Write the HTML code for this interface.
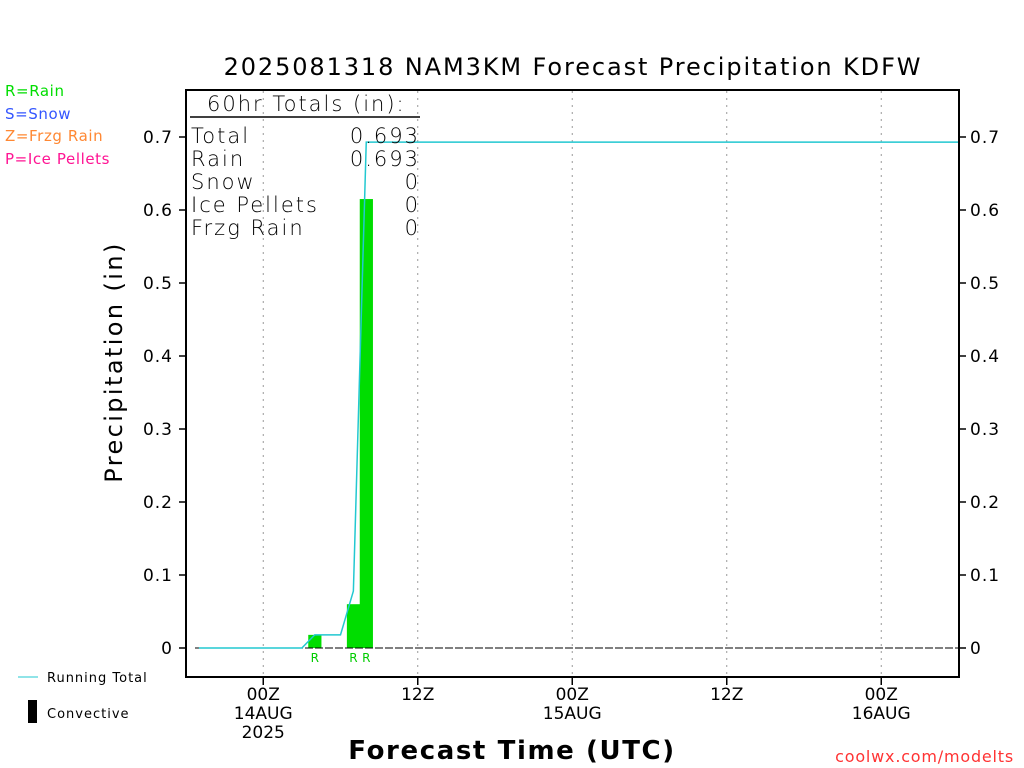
<!DOCTYPE html>
<html><head><meta charset="utf-8"><style>
body{margin:0;background:#fff;}
svg{display:block;font-family:"DejaVu Sans","Liberation Sans",sans-serif;}
</style></head><body>
<svg id="chart" width="1024" height="768" viewBox="0 0 1024 768" xmlns="http://www.w3.org/2000/svg">
<rect width="1024" height="768" fill="#fff"/>
<text x="573" y="75" font-size="24" text-anchor="middle" fill="#000" letter-spacing="1.9">2025081318 NAM3KM Forecast Precipitation KDFW</text>
<g font-size="15" letter-spacing="0.6">
<text x="5" y="96" fill="#00dd00">R=Rain</text>
<text x="5" y="119" fill="#3355ff">S=Snow</text>
<text x="5" y="141" fill="#ff8833">Z=Frzg Rain</text>
<text x="5" y="164" fill="#ff1493">P=Ice Pellets</text>
</g>
<g id="grid"></g>
<g id="bars"></g>
<line x1="195" y1="648" x2="958" y2="648" stroke="#000" stroke-dasharray="8,2" stroke-width="1"/>
<polyline id="total-line" fill="none" stroke="#22c8d0" stroke-width="1.5"/>
<g font-size="21" fill="#000" font-weight="300" letter-spacing="2">
<text x="207" y="111">60hr Totals (in):</text>
<line x1="190" y1="117" x2="420" y2="117" stroke="#000" stroke-width="1.5"/>
<text x="191" y="143">Total</text><text x="420" y="143" text-anchor="end">0.693</text>
<text x="191" y="166">Rain</text><text x="420" y="166" text-anchor="end">0.693</text>
<text x="191" y="189">Snow</text><text x="420" y="189" text-anchor="end">0</text>
<text x="191" y="212">Ice Pellets</text><text x="420" y="212" text-anchor="end">0</text>
<text x="191" y="235">Frzg Rain</text><text x="420" y="235" text-anchor="end">0</text>
</g>
<rect x="186" y="90" width="773" height="587" fill="none" stroke="#000" stroke-width="2"/>
<g id="axes"></g>
<text transform="translate(122,362) rotate(-90)" font-size="24" text-anchor="middle" fill="#000" letter-spacing="2.4">Precipitation (in)</text>
<text x="512" y="759" font-size="26" text-anchor="middle" fill="#000" font-weight="bold" letter-spacing="1.6">Forecast Time (UTC)</text>
<g font-size="13" fill="#000" letter-spacing="1">
<line x1="18" y1="677" x2="38" y2="677" stroke="#22c8d0" stroke-width="1"/>
<text x="47" y="682">Running Total</text>
<rect x="28" y="700" width="9" height="23" fill="#000"/>
<text x="47" y="718">Convective</text>
</g>
<text x="1014" y="762" font-size="16" text-anchor="end" fill="#ff3333" letter-spacing="0.8">coolwx.com/modelts</text>
</svg>
<script>
const hours = [1,2,3,4,5,6,7,8,9,10,11,12,13,14,15,60];
const totals = [0,0,0,0,0,0,0,0,0,0.018,0.018,0.018,0.078,0.693,0.693,0.693];
const barHours = [10,13,14];
const barValues = [0.018,0.060,0.615];
const barTypes = ["R","R","R"];
const yTicks = [0,0.1,0.2,0.3,0.4,0.5,0.6,0.7];
const xTickHours = [6,18,30,42,54];
const xTickLabels = [["00Z","14AUG","2025"],["12Z"],["00Z","15AUG"],["12Z"],["00Z","16AUG"]];
const NS="http://www.w3.org/2000/svg";
const x = h => 186 + h*12.875;
const y = v => 648 - v*730;
function mk(tag, attrs, parent, text){const e=document.createElementNS(NS,tag);for(const k in attrs)e.setAttribute(k,attrs[k]);if(text!==undefined)e.textContent=text;parent.appendChild(e);return e;}
const grid=document.getElementById('grid'), axes=document.getElementById('axes'), bars=document.getElementById('bars');
xTickHours.forEach((h,i)=>{
  const g=mk('line',{x1:x(h),y1:91,x2:x(h),y2:676,stroke:'#999','stroke-dasharray':'2,5'},grid);
  
  
  const t=mk('line',{x1:x(h),y1:677,x2:x(h),y2:685,stroke:'#000','stroke-width':1.5},axes);
  
  
  xTickLabels[i].forEach((s,j)=>{
    const l=mk('text',{x:x(h),y:700+j*19,'font-size':17,'text-anchor':'middle',fill:'#000'},axes,s);
    
    
  });
});
yTicks.forEach(v=>{
  const a=mk('line',{x1:179,y1:y(v),x2:186,y2:y(v),stroke:'#000','stroke-width':1.5},axes);
  
  
  const b=mk('line',{x1:959,y1:y(v),x2:966,y2:y(v),stroke:'#000','stroke-width':1.5},axes);
  
  
  const s=v===0?'0':v.toFixed(1);
  const l=mk('text',{x:173,y:y(v)+6,'font-size':17,'text-anchor':'end',fill:'#000','letter-spacing':1},axes,s);
  
  
  const r=mk('text',{x:970,y:y(v)+6,'font-size':17,fill:'#000','letter-spacing':1},axes,s);
  
  
});
barHours.forEach((h,i)=>{
  const r=mk('rect',{x:x(h)-6.5,y:y(barValues[i]),width:13.2,height:648-y(barValues[i]),fill:'#00dd00'},bars);
  
  
  const t=mk('text',{x:x(h),y:662,'font-size':12,'text-anchor':'middle',fill:'#00cc00'},bars,barTypes[i]);
  
  
});
document.getElementById('total-line').setAttribute('points',hours.map((h,i)=>x(h)+','+y(totals[i])).join(' '));
</script>
</body></html>
